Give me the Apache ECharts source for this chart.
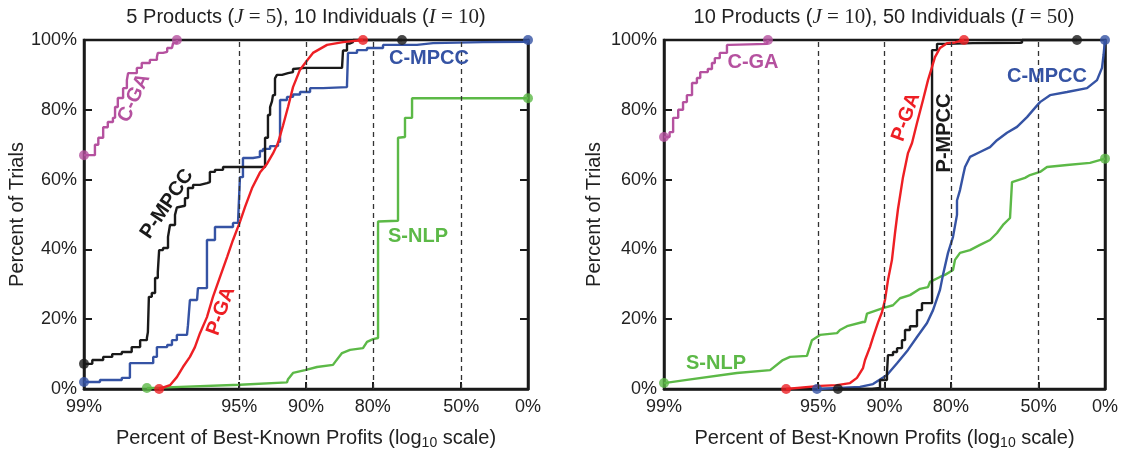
<!DOCTYPE html>
<html><head><meta charset="utf-8">
<script src="https://cdn.jsdelivr.net/npm/echarts@6/dist/echarts.min.js"></script>
<style>html,body{margin:0;padding:0;background:#fff}#c{width:1123px;height:458px}</style>
</head><body><div id="c"></div>
<script>
// ---- tick labels (percent of best-known profit) ----
const xTickProfits = [99, 95, 90, 80, 50, 0];
const dashedProfits = [95, 90, 80, 50];
const yTicks = [0, 20, 40, 60, 80, 100];

// ---- Left panel: 5 products, 10 individuals. Points: [percent of best-known profit, percent of trials]
const L_CGA = [[99,67],[98.88,67],[98.88,70],[98.84,72],[98.78,75],[98.72,76.5],[98.65,77.7],[98.62,80.8],[98.58,83.4],[98.50,86.2],[98.44,88.5],[98.42,90.5],[98.34,90.5],[98.27,92],[98.18,93.4],[98.08,93.4],[98.02,94.3],[97.87,95.1],[97.85,96.3],[97.73,96.6],[97.63,97.7],[97.51,98],[97.48,99.1],[97.38,100]];
const L_PMPCC = [[99,7.2],[98.91,8.3],[98.78,9.2],[98.66,10],[98.52,10.6],[98.36,12],[98.21,14],[98.08,14.6],[98.06,16.3],[98.04,26.4],[97.98,27.5],[97.91,31.8],[97.85,33.5],[97.82,39.8],[97.73,40.4],[97.61,43.6],[97.56,47],[97.43,49.9],[97.38,52],[97.35,52.5],[97.15,54.7],[97.06,57.6],[96.90,58.5],[96.67,59],[96.42,59.3],[96.31,62.2],[96.11,62.8],[95.77,63.6],[94.96,63.6],[93.46,63.6],[93.46,72],[93.26,78.5],[93.11,80.8],[92.97,82.5],[92.90,84.2],[92.75,89],[92.60,90],[92.20,90.5],[91.70,90.8],[91.26,91.7],[91.08,92],[90.10,92],[85.47,92],[85.32,97],[84.70,99],[84.21,99.4],[83.72,100],[72.93,100]];
const L_CMPCC = [[99,2],[98.82,2.6],[98.52,3.2],[98.39,4],[98.39,7.4],[98.08,7.4],[97.95,9.2],[97.87,12],[97.63,12.6],[97.51,14],[97.38,15.5],[97.09,16],[97.06,18.3],[97.00,25.5],[96.77,26],[96.74,28.9],[96.42,29.5],[96.42,42.7],[96.11,42.7],[96.11,46.4],[95.31,47.6],[95.06,47.9],[94.96,60.7],[94.80,66.2],[94.23,66.5],[93.80,68.2],[93.60,68.8],[93.11,69.6],[92.52,70.8],[92.36,70.8],[92.36,82.8],[91.79,83.7],[91.26,84.4],[90.60,85.1],[89.57,86.2],[88.07,86.5],[84.70,87.1],[84.54,96.3],[83.03,97.1],[81.17,97.7],[77.77,98.6],[68.38,99.1],[62.66,99.4],[37.29,99.5],[0,100]];
const L_PGA = [[97.82,0],[97.56,1.1],[97.38,3.4],[97.21,6.3],[97.00,9.2],[96.84,12],[96.67,16],[96.42,20.6],[96.19,26.4],[95.90,32.1],[95.59,37.8],[95.31,42.7],[94.96,47.9],[94.69,52.1],[94.29,57.5],[93.80,62],[93.33,64.5],[92.90,67.5],[92.52,70.5],[92.12,75.5],[91.70,80.8],[91.26,86.5],[90.60,91.5],[89.79,94.5],[89.25,96.3],[87.56,98.6],[85.32,99.4],[81.94,100]];
const L_SNLP = [[98.08,0.3],[97.80,0.4],[94.96,1.2],[91.79,1.9],[91.70,2.8],[91.26,4.6],[90.10,5.4],[88.79,6.3],[86.77,6.9],[86.49,7.7],[85.47,10.3],[84.21,11.2],[81.94,11.7],[81.17,13.5],[79.96,14.3],[78.89,14.6],[78.89,48],[74.03,48.2],[74.03,72],[72.08,72.2],[72.08,77.7],[69.96,77.7],[69.96,83.3],[0,83.3]];

// ---- Right panel: 10 products, 50 individuals
const R_CGA = [[99,72.2],[98.94,73.6],[98.90,77.7],[98.84,80],[98.78,82.2],[98.73,84.2],[98.66,87.7],[98.59,89.1],[98.54,90.8],[98.42,91.7],[98.35,93.4],[98.30,94.8],[98.21,96.3],[98.07,98.6],[98.01,98.9],[97.07,98.9],[97.04,100]];
const R_PMPCC = [[93.85,0],[91.22,0.3],[90.46,2.6],[89.74,4.6],[89.63,9.7],[89.07,10.6],[88.60,11.7],[88.00,14],[87.61,16.9],[86.95,18],[85.96,19.8],[85.96,22.6],[85.21,24.6],[83.57,24.9],[83.57,97.1],[82.69,98.9],[80.79,99.1],[74.80,99.2],[58.83,99.3],[57.96,100],[25.35,100]];
const R_CMPCC = [[95.06,0],[92.26,0.6],[91.13,1.4],[89.74,4],[88.60,7.4],[87.22,11.2],[85.96,14.9],[84.41,18.9],[83.40,22.6],[82.15,28.4],[81.58,32.7],[80.59,39],[79.55,43.6],[78.68,49.9],[78.68,54],[78.00,57],[77.30,61],[76.82,63.6],[75.58,66.5],[72.88,67.9],[69.90,69.3],[67.62,71.3],[64.06,73.4],[60.10,75.1],[55.71,77.9],[52.84,79.9],[49.27,82.2],[43.69,84.2],[32.74,85.1],[17.13,86.2],[8.01,88.5],[3.08,92],[1.5,95.7],[0,100]];
const R_PGA = [[96.42,0],[94.90,0.9],[93.91,1.1],[93.02,1.7],[92.50,3.2],[92.01,6],[91.84,8.3],[91.41,12],[91.13,14.8],[90.66,19],[90.26,22],[89.95,25.5],[89.63,31.2],[89.19,37],[88.84,44.7],[88.49,51.5],[87.87,60.7],[87.22,67.6],[86.67,70.5],[85.96,76.2],[85.05,82.8],[84.25,88.5],[83.57,92.3],[83.06,95.1],[82.15,97.7],[80.79,99.1],[79.12,99.3],[77.06,100]];
const R_SNLP = [[99,1.7],[98.73,2.6],[97.86,4.6],[96.97,5.4],[96.54,8.3],[96.27,9.2],[95.55,9.5],[95.31,14],[94.90,15.5],[93.91,16],[93.72,16.9],[93.24,18],[92.01,19.2],[91.84,19.2],[91.67,21.6],[90.16,23.2],[89.07,24],[88.24,26],[86.95,26.9],[85.51,28.7],[84.25,29.2],[83.92,30.7],[82.15,32.1],[81.19,32.7],[79.55,34.1],[79.12,37],[78.00,39],[75.58,39.8],[72.88,41.3],[69.90,42.7],[67.62,44.7],[65.53,47],[62.91,49],[62.13,49.5],[62.13,59.3],[56.63,60.5],[54.31,61.3],[49.27,62.2],[45.42,63.6],[32.74,64.2],[14.49,64.8],[0,66]];

const FONT = "'Liberation Sans', Arial, Helvetica, sans-serif";
const SERIF = "'Liberation Serif', 'Times New Roman', serif";
const C = {cga:'#b5519f', pmpcc:'#1a1a1a', cmpcc:'#3553a4', pga:'#ee1f24', snlp:'#5cb947'};
const INK = '#1a1a1a';

const panels = [
  {grid:{left:84, right:595, top:40, bottom:69}, cx:306,
   title:'{n|5 Products (}{i|J}{m| = 5}{n|), 10 Individuals (}{i|I}{m| = 10}{n|)}',
   curves:[['snlp',L_SNLP,false],['cmpcc',L_CMPCC,'end'],['pmpcc',L_PMPCC,'end'],['pga',L_PGA,false],['cga',L_CGA,'end']],
   labels:[['C-GA','cga',134,98,65],['P-MPCC','pmpcc',167,204,56],['P-GA','pga',221,311,70],['C-MPCC','cmpcc',429,58,0],['S-NLP','snlp',418,236,0]]},
  {grid:{left:664, right:18, top:40, bottom:69}, cx:884,
   title:'{n|10 Products (}{i|J}{m| = 10}{n|), 50 Individuals (}{i|I}{m| = 50}{n|)}',
   curves:[['snlp',R_SNLP,false],['cmpcc',R_CMPCC,false],['pmpcc',R_PMPCC,'end'],['pga',R_PGA,false],['cga',R_CGA,'end']],
   labels:[['C-GA','cga',753,62,0],['P-GA','pga',906,117,70],['P-MPCC','pmpcc',944,133,90],['C-MPCC','cmpcc',1047,76,0],['S-NLP','snlp',716,363,0]]}
];

const toGap = p => 100 - p; // log axis quantity: shortfall from best-known profit (%)

const option = {animation:false, backgroundColor:'#fff', grid:[], xAxis:[], yAxis:[], series:[], graphic:[]};
panels.forEach((P, gi) => {
  option.grid.push(Object.assign({show:true, borderColor:INK, borderWidth:2.5, backgroundColor:'transparent'}, P.grid));
  option.xAxis.push({
    type:'log', logBase:10, min:1, max:100, gridIndex:gi,
    axisLine:{show:true, lineStyle:{color:INK, width:2.5}},
    axisTick:{show:true, inside:true, length:7, customValues:dashedProfits.map(toGap), lineStyle:{color:INK, width:2}},
    axisLabel:{customValues:xTickProfits.map(toGap), formatter:v => Math.round(100 - v) + '%', fontSize:18, color:'#222', fontFamily:FONT, margin:9},
    splitLine:{show:false}, minorTick:{show:false}, minorSplitLine:{show:false},
    name:'{a|Percent of Best-Known Profits (log}{s|10}{a| scale)}', nameLocation:'middle', nameGap:37,
    nameTextStyle:{fontFamily:FONT, fontSize:20, color:'#222', rich:{a:{fontFamily:FONT, fontSize:20, color:'#222'}, s:{fontFamily:FONT, fontSize:14, color:'#222', padding:[10,0,0,0]}}}
  });
  option.yAxis.push({
    type:'value', min:0, max:100, interval:20, gridIndex:gi,
    axisLine:{show:true, lineStyle:{color:INK, width:2.5}},
    axisTick:{show:true, inside:true, length:8, lineStyle:{color:INK, width:2}},
    axisLabel:{formatter:'{value}%', fontSize:18, color:'#222', fontFamily:FONT, margin:7},
    splitLine:{show:false},
    name:'Percent of Trials', nameLocation:'middle', nameGap:gi===0?56:60,
    nameTextStyle:{fontFamily:FONT, fontSize:20, color:'#222'}
  });
  option.yAxis.push({
    type:'value', min:0, max:100, interval:20, gridIndex:gi, position:'right',
    axisLine:{show:true, lineStyle:{color:INK, width:2.5}},
    axisTick:{show:true, inside:true, length:8, lineStyle:{color:INK, width:2}},
    axisLabel:{show:false}, splitLine:{show:false}
  });
  const yIdx = gi*2;
  // dashed reference lines
  option.series.push({
    type:'line', xAxisIndex:gi, yAxisIndex:yIdx, data:[], silent:true,
    markLine:{silent:true, symbol:['none','none'], label:{show:false}, animation:false,
      lineStyle:{type:[5,4], color:'#333', width:1.3},
      data:dashedProfits.map(p => ({xAxis:toGap(p)}))}
  });
  P.curves.forEach(([key, arr, step]) => {
    option.series.push({
      type:'line', xAxisIndex:gi, yAxisIndex:yIdx, clip:false, showSymbol:false, symbol:'none', step:step,
      lineStyle:{color:C[key], width:2.4}, itemStyle:{color:C[key]}, z:3,
      data:arr.map(d => [toGap(d[0]), d[1]])
    });
  });
  P.curves.forEach(([key, arr]) => {
    const ends = [arr[0], arr[arr.length-1]];
    option.series.push({
      type:'scatter', xAxisIndex:gi, yAxisIndex:yIdx, clip:false, symbol:'circle', symbolSize:10, z:4,
      itemStyle:{color:C[key]}, data:ends.map(d => [toGap(d[0]), d[1]])
    });
  });
  option.graphic.push({
    type:'text', x:P.cx, y:7, z:10,
    style:{text:P.title, textAlign:'center', textVerticalAlign:'top', fill:'#222',
      rich:{n:{fontFamily:FONT, fontSize:20, fill:'#222'}, i:{fontFamily:SERIF, fontStyle:'italic', fontSize:21, fill:'#222'}, m:{fontFamily:SERIF, fontSize:21, fill:'#222'}}}
  });
  P.labels.forEach(([t, key, x, y, rot]) => {
    option.graphic.push({
      type:'text', x:x, y:y, rotation:rot*Math.PI/180, z:10,
      style:{text:t, fill:C[key], font:"bold 20px " + FONT, textAlign:'center', textVerticalAlign:'middle'}
    });
  });
});

const chart = echarts.init(document.getElementById('c'), null, {renderer:'canvas'});
chart.setOption(option);
</script></body></html>
